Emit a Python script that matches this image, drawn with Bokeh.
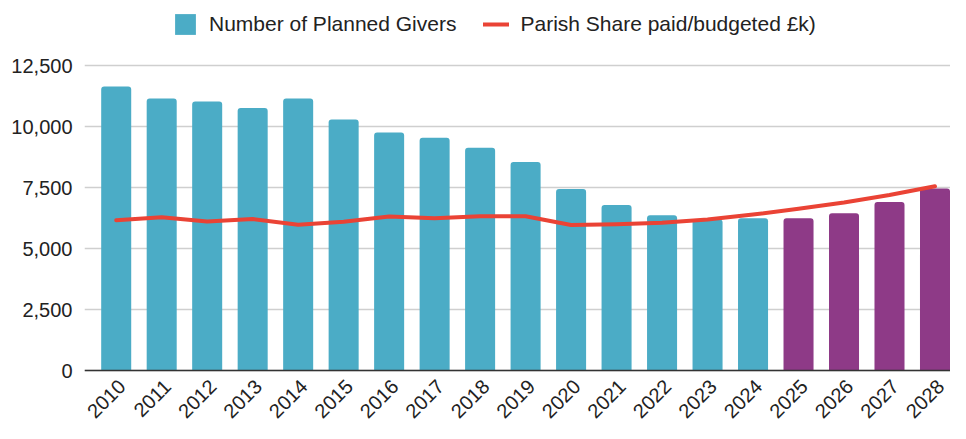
import math
from bokeh.plotting import figure
from bokeh.models import (Range1d, FixedTicker, NumeralTickFormatter, Legend, LegendItem,
                          ColumnDataSource, Span)
from bokeh.embed import file_html
from bokeh.resources import INLINE
from bokeh.core.properties import value

# ---- data ----
years_actual = [2010, 2011, 2012, 2013, 2014, 2015, 2016, 2017, 2018, 2019,
                2020, 2021, 2022, 2023, 2024]
givers_actual = [11640, 11150, 11020, 10760, 11150, 10290, 9750, 9540, 9130, 8540,
                 7440, 6780, 6360, 6190, 6240]
years_projected = [2025, 2026, 2027, 2028]
givers_projected = [6240, 6440, 6910, 7460]

years_all = years_actual + years_projected
year_labels = [str(y) for y in years_all]
parish_share = [6160, 6280, 6110, 6210, 5975, 6095, 6310, 6240, 6320, 6320,
                5965, 5990, 6055, 6190, 6390, 6625, 6885, 7190, 7550]

y_ticks = [0, 2500, 5000, 7500, 10000, 12500]

BLUE = "#4BACC6"
PURPLE = "#8E3A87"
RED = "#EA4335"
FONT = "Liberation Sans"

W, H = 950, 423
PX_PER_UNIT = 0.0244
ZERO_FROM_TOP = 370.0
p = figure(width=W, height=H, output_backend="svg", toolbar_location=None,
           x_range=Range1d(2009.303, 2028.341),
           y_range=Range1d(-(H - ZERO_FROM_TOP) / PX_PER_UNIT, ZERO_FROM_TOP / PX_PER_UNIT),
           x_axis_location=None,
           min_border_left=84, min_border_right=0, min_border_top=0,
           min_border_bottom=0)
p.outline_line_color = None
p.background_fill_color = "white"

src_a = ColumnDataSource(dict(x=years_actual, top=givers_actual))
src_p = ColumnDataSource(dict(x=years_projected, top=givers_projected))
src_l = ColumnDataSource(dict(x=years_all, y=parish_share))

r_a = p.vbar(x="x", top="top", width=0.66, source=src_a, fill_color=BLUE,
             line_color=None, border_radius=(3, 3, 0, 0))
r_p = p.vbar(x="x", top="top", width=0.66, source=src_p, fill_color=PURPLE,
             line_color=None, border_radius=(3, 3, 0, 0))
r_l = p.line(x="x", y="y", source=src_l, line_color=RED, line_width=4,
             line_join="round", line_cap="round")

# zero axis line
p.add_layout(Span(location=0, dimension="width", line_color="#333333", line_width=1.5))

# y axis
p.yaxis.ticker = FixedTicker(ticks=y_ticks)
p.yaxis.formatter = NumeralTickFormatter(format="0,0")
p.yaxis.axis_line_color = None
p.yaxis.major_tick_line_color = None
p.yaxis.minor_tick_line_color = None
p.yaxis.major_tick_out = 0
p.yaxis.major_tick_in = 0
p.yaxis.minor_tick_out = 0
p.yaxis.major_label_standoff = 12
p.yaxis.major_label_text_font = FONT
p.yaxis.major_label_text_font_size = "20px"
p.yaxis.major_label_text_color = "#222222"

# rotated year labels below the zero line
lab_src = ColumnDataSource(dict(x=years_all, y=[0] * len(years_all), text=year_labels))
p.text(x="x", y="y", text="text", source=lab_src,
       x_offset=5.7, y_offset=12.5, angle=math.pi / 4,
       text_align="right", text_baseline="middle",
       text_font=value(FONT), text_font_size="20px", text_color="#222222")

p.xgrid.grid_line_color = None
p.ygrid.ticker = FixedTicker(ticks=y_ticks)
p.ygrid.grid_line_color = "#CFCFCF"
p.ygrid.grid_line_width = 1.5

legend = Legend(items=[LegendItem(label="Number of Planned Givers", renderers=[r_a]),
                       LegendItem(label="Parish Share paid/budgeted £k)", renderers=[r_l])],
                orientation="horizontal", location=(88, 386),
                glyph_width=26, glyph_height=26, label_height=26,
                label_standoff=11, spacing=27, padding=0, margin=0,
                border_line_color=None, background_fill_alpha=0,
                label_text_font=FONT, label_text_font_size="21px",
                label_text_color="#222222")
p.add_layout(legend, "center")

open("out.html", "w").write(file_html(p, INLINE))
